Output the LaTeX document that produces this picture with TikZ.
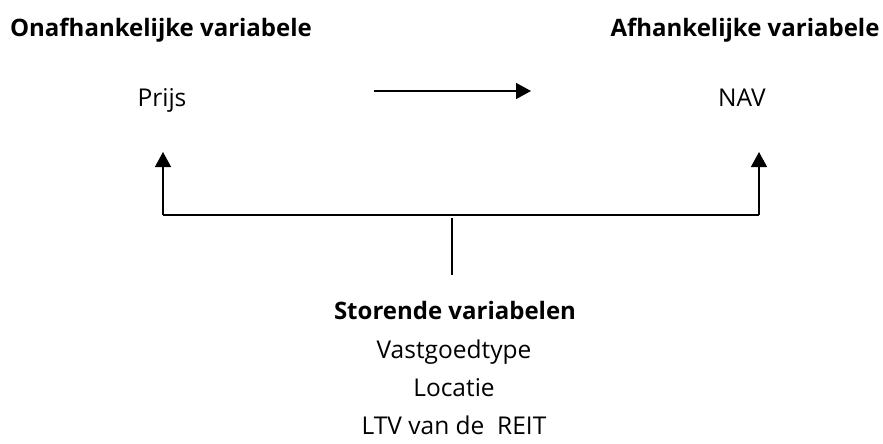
\documentclass[tikz,border=0pt]{standalone}
\usepackage{fontspec}
\setmainfont{Open Sans}
\usetikzlibrary{arrows.meta}
\begin{document}
\begin{tikzpicture}[x=1pt,y=-1pt,
  head/.style={font=\fontsize{24}{28}\selectfont\bfseries, inner sep=0pt, anchor=base},
  lbl/.style={font=\fontsize{24.5}{28}\selectfont, inner sep=0pt, anchor=base},
  conn/.style={line width=1.4pt},
  arr/.style={conn, -{Triangle[length=15pt,width=16pt]}}]
\useasboundingbox (0,0) rectangle (883,444);
\node[head] (ind) at (161,37) {Onafhankelijke variabele};
\node[head] (dep) at (745,37) {Afhankelijke variabele};
\node[lbl] (prijs) at (162,106) {Prijs};
\node[lbl] (nav) at (742,106) {NAV};
\coordinate (a1) at (374,91);
\coordinate (a2) at (531,91);
\draw[arr] (a1) -- (a2);
\coordinate (pl) at (163,152);
\coordinate (pr) at (759,152);
\coordinate (bl) at (163,215);
\coordinate (br) at (759,215);
\coordinate (m1) at (452,218);
\coordinate (m2) at (452,275);
\draw[arr] (bl) -- (pl);
\draw[arr] (br) -- (pr);
\draw[conn] (bl) -- (br);
\draw[conn] (m1) -- (m2);
\node[head] (stor) at (455,319) {Storende variabelen};
\node[lbl] (vast) at (454,358) {Vastgoedtype};
\node[lbl] (loc) at (454,396) {Locatie};
\node[lbl] (ltv) at (454,434) {LTV van de\ \ REIT};
\end{tikzpicture}
\end{document}
